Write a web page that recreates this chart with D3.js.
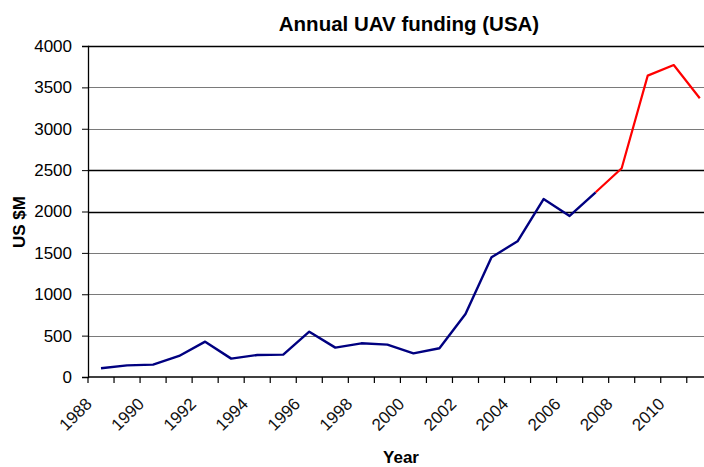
<!DOCTYPE html>
<html>
<head>
<meta charset="utf-8">
<script src="https://cdn.jsdelivr.net/npm/d3@7"></script>
<style>
  body { margin: 0; background: #ffffff; }
  text { font-family: "Liberation Sans", Arial, sans-serif; fill: #000; }
</style>
</head>
<body>
<script>
const years = d3.range(1988, 2012);
const funding = [105, 141, 149, 254, 427, 222, 266, 270, 548, 355, 407, 391,
  286, 347, 761, 1446, 1640, 2151, 1946, 2232, 2522, 3642, 3770, 3368];
// projected part of the series starts here (drawn in red)
const projectedFrom = 2007;
const yTicks = [0, 500, 1000, 1500, 2000, 2500, 3000, 3500, 4000];
const darkGrid = [2000, 2500, 4000];
const labelYears = d3.range(1988, 2011, 2);

const width = 704, height = 467;
const margin = { left: 88, top: 46, bottom: 90 };
const plotRight = 712.8; // plot runs past the right edge of the picture

const svg = d3.select('body').append('svg')
  .attr('width', width)
  .attr('height', height);

const x = d3.scaleBand().domain(years).range([margin.left, plotRight]);
const y = d3.scaleLinear().domain([0, 4000]).range([height - margin.bottom, margin.top]);
const cx = d => x(d) + x.bandwidth() / 2;

// gridlines
svg.append('g')
  .selectAll('line')
  .data(yTicks.filter(v => v > 0))
  .enter()
  .append('line')
  .attr('x1', margin.left)
  .attr('x2', plotRight)
  .attr('y1', v => Math.round(y(v)) + 0.5)
  .attr('y2', v => Math.round(y(v)) + 0.5)
  .style('stroke', v => (darkGrid.includes(v) ? '#000' : '#7a7a7a'))
  .style('stroke-width', v => (darkGrid.includes(v) ? 1.6 : 1.2));

// y axis
const yAxis = svg.append('g')
  .attr('transform', `translate(${margin.left},0)`)
  .call(d3.axisLeft(y).tickValues(yTicks).tickSize(6).tickPadding(10).tickFormat(d3.format('d')));
yAxis.select('.domain').attr('stroke', '#000').attr('stroke-width', 1.3);
yAxis.selectAll('.tick line').attr('stroke', '#000');
yAxis.selectAll('text')
  .style('font-size', '17px')
  .style('font-family', '"Liberation Sans", Arial, sans-serif')
  .attr('fill', '#111');

// x axis line and category ticks
svg.append('line')
  .attr('x1', margin.left)
  .attr('x2', plotRight)
  .attr('y1', y(0))
  .attr('y2', y(0))
  .style('stroke', '#000')
  .style('stroke-width', 1.5);

svg.append('g')
  .selectAll('line')
  .data(d3.range(years.length + 1))
  .enter()
  .append('line')
  .attr('x1', i => margin.left + i * x.step())
  .attr('x2', i => margin.left + i * x.step())
  .attr('y1', y(0))
  .attr('y2', y(0) + 6)
  .style('stroke', '#000')
  .style('stroke-width', 1.2);

svg.append('g')
  .selectAll('text')
  .data(labelYears)
  .enter()
  .append('text')
  .attr('text-anchor', 'end')
  .attr('transform', d => `translate(${cx(d) - 8},${y(0) + 28}) rotate(-45)`)
  .style('font-size', '17px')
  .style('fill', '#111')
  .text(d => d);

// series
const line = d3.line().x(d => cx(d.year)).y(d => y(d.value));
const points = years.map((year, i) => ({ year, value: funding[i] }));

svg.append('path')
  .datum(points.filter(d => d.year <= projectedFrom))
  .attr('d', line)
  .style('fill', 'none')
  .style('stroke', '#000080')
  .style('stroke-width', 2.4)
  .style('stroke-linejoin', 'round');

svg.append('path')
  .datum(points.filter(d => d.year >= projectedFrom))
  .attr('d', line)
  .style('fill', 'none')
  .style('stroke', '#ff0000')
  .style('stroke-width', 2.2)
  .style('stroke-linejoin', 'round');

// titles
svg.append('text')
  .attr('x', 409)
  .attr('y', 31)
  .attr('text-anchor', 'middle')
  .style('font-size', '20.5px')
  .style('font-weight', 'bold')
  .text('Annual UAV funding (USA)');

svg.append('text')
  .attr('transform', 'translate(25,222) rotate(-90)')
  .attr('text-anchor', 'middle')
  .style('font-size', '17px')
  .style('font-weight', 'bold')
  .text('US $M');

svg.append('text')
  .attr('x', 401)
  .attr('y', 463)
  .attr('text-anchor', 'middle')
  .style('font-size', '17px')
  .style('font-weight', 'bold')
  .text('Year');
</script>
</body>
</html>
